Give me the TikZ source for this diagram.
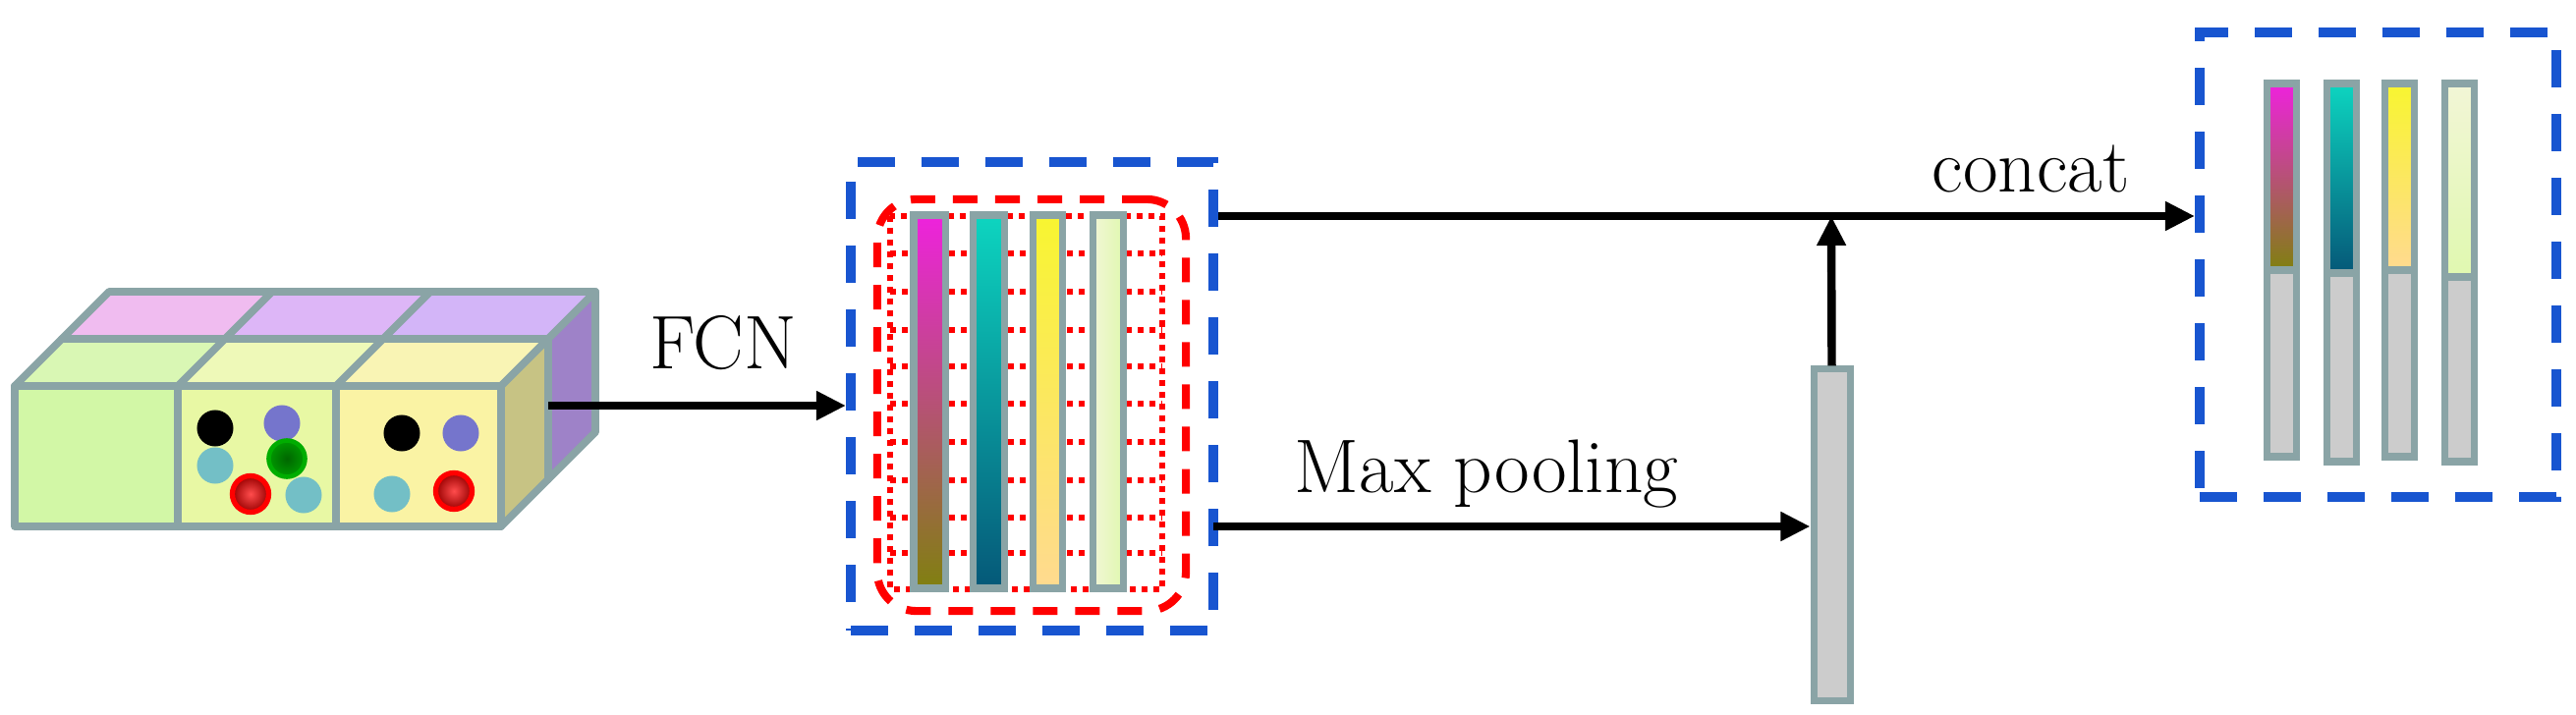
\documentclass[tikz,border=0pt]{standalone}
\usetikzlibrary{arrows.meta}
\definecolor{edge}{HTML}{8AA4A6}
\definecolor{bluedash}{HTML}{1855D0}
\definecolor{gfront1}{HTML}{D2F7A6}\definecolor{gfront2}{HTML}{E8F8A4}\definecolor{gfront3}{HTML}{FAF3A4}
\definecolor{gtop1}{HTML}{D9F7B4}\definecolor{gtop2}{HTML}{EEF9B8}\definecolor{gtop3}{HTML}{F9F4B4}
\definecolor{btop1}{HTML}{F0BCF0}\definecolor{btop2}{HTML}{DDB6F7}\definecolor{btop3}{HTML}{D3B5F8}
\definecolor{rside1}{HTML}{C7C384}\definecolor{rside2}{HTML}{9E82C8}
\definecolor{dpurple}{HTML}{7575CC}\definecolor{dcyan}{HTML}{73BFC6}
\definecolor{m1}{HTML}{EE22DD}\definecolor{m2}{HTML}{808010}
\definecolor{c1}{HTML}{0DD5C0}\definecolor{c2}{HTML}{055878}
\definecolor{y1}{HTML}{F8F530}\definecolor{y2}{HTML}{FFDA90}
\definecolor{l1}{HTML}{F2F6D6}\definecolor{l2}{HTML}{E0F8B0}
\tikzset{
  face/.style={draw=edge, line width=2.2pt, line join=round},
  conn/.style={line width=2.4pt, -{Triangle[length=0.3cm,width=0.28cm]}},
  bluebox/.style={draw=bluedash, line width=2.8pt, dash pattern=on 0.38cm off 0.27cm, inner sep=0pt},
  bar/.style={draw=edge, line width=2pt},
  dot/.style={circle, inner sep=0pt, minimum width=0.35cm, minimum height=0.37cm},
  lbl/.style={font=\fontsize{22}{24}\selectfont, inner sep=0pt, anchor=base},
}
\begin{document}
\begin{tikzpicture}[x=0.01cm,y=-0.01cm]
\useasboundingbox (0,0) rectangle (2622,728);
% ---- cube
\def\dx{48}\def\dy{48}
% back row tops
\fill[btop1] (63,345) -- (111,297) -- (277,297) -- (229,345) -- cycle;
\fill[btop2] (229,345) -- (277,297) -- (438,297) -- (390,345) -- cycle;
\fill[btop3] (390,345) -- (438,297) -- (606,297) -- (558,345) -- cycle;
\draw[face] (63,345) -- (111,297) -- (606,297) -- (558,345) -- cycle;
\draw[face] (229,345) -- (277,297) (390,345) -- (438,297);
% back right face
\draw[face, fill=rside2] (558,345) -- (606,297) -- (606,440) -- (558,488) -- cycle;
% front row tops
\fill[gtop1] (15,393) -- (63,345) -- (229,345) -- (181,393) -- cycle;
\fill[gtop2] (181,393) -- (229,345) -- (390,345) -- (342,393) -- cycle;
\fill[gtop3] (342,393) -- (390,345) -- (558,345) -- (510,393) -- cycle;
\draw[face] (15,393) -- (63,345) -- (558,345) -- (510,393) -- cycle;
\draw[face] (181,393) -- (229,345) (342,393) -- (390,345);
% front right face
\draw[face, fill=rside1] (510,393) -- (558,345) -- (558,488) -- (510,536) -- cycle;
% front faces
\draw[face, fill=gfront1] (15,393) rectangle (181,536);
\draw[face, fill=gfront2] (181,393) rectangle (342,536);
\draw[face, fill=gfront3] (342,393) rectangle (510,536);
\coordinate (cubeR) at (558,413);
% dots
\node[dot, fill=black] (d1) at (219,436) {};
\node[dot, fill=dpurple] (d2) at (287,431) {};
\node[dot, fill=dcyan] (d3) at (219,474) {};
\node[dot, draw=green!60!black!80!green, line width=1.3pt, inner color=green!40!black, outer color=green!60!black] (d4) at (292,467) {};
\node[dot, draw=red, line width=1.5pt, inner color=red!70!white, outer color=red!60!black] (d5) at (255,503) {};
\node[dot, fill=dcyan] (d6) at (309,504) {};
\node[dot, fill=black] (e1) at (409,441) {};
\node[dot, fill=dpurple] (e2) at (469,441) {};
\node[dot, fill=dcyan] (e3) at (399,503) {};
\node[dot, draw=red, line width=1.5pt, inner color=red!70!white, outer color=red!60!black] (e4) at (462,500) {};
% ---- middle block
\node[bluebox, minimum width=3.69cm, minimum height=4.77cm] (mid) at (1050.5,403.5) {};
\node[draw=red, line width=2.3pt, dash pattern=on 0.25cm off 0.18cm, rounded corners=0.4cm, minimum width=3.14cm, minimum height=4.19cm, inner sep=0pt] (redbox) at (1050,412.5) {};
\draw[red, line width=1.8pt, dash pattern=on 0.06cm off 0.06cm] (906,220) rectangle (1183,600);
\foreach \yy in {258,297,336,373,411,450,489,527,563}
  \draw[red, line width=1.8pt, dash pattern=on 0.06cm off 0.06cm] (906,\yy) -- (1183,\yy);
\draw[bar, top color=m1, bottom color=m2] (930,219) rectangle (962,599);
\draw[bar, top color=c1, bottom color=c2] (990,219) rectangle (1022,599);
\draw[bar, top color=y1, bottom color=y2] (1051,219) rectangle (1081,599);
\draw[bar, left color=l1, right color=l2] (1112,219) rectangle (1143,599);
% ---- pool bar
\node[bar, fill=black!20, minimum width=0.37cm, minimum height=3.37cm, inner sep=0pt] (pool) at (1864.5,544.5) {};
% ---- right box
\node[bluebox, minimum width=3.63cm, minimum height=4.73cm] (rbox) at (2420.5,269.5) {};
\foreach \xa/\xb/\ya/\yb/\ca/\cb in {2307/2337/275/465/m1/m2, 2368/2398/278/470/c1/c2, 2427/2457/275/465/y1/y2, 2488/2518/282/470/l1/l2}{
  \draw[bar, fill=black!20] (\xa,\ya) rectangle (\xb,\yb);
  \draw[bar, top color=\ca, bottom color=\cb] (\xa,85) rectangle (\xb,\ya);
}
% ---- connectors
\coordinate (j) at (1864,220);
\coordinate (m) at (1235,536);
\draw[conn] (cubeR) -- (mid.west |- cubeR);
\draw[conn] (mid.east |- j) -- (rbox.west |- j);
\draw[conn] (pool.north) -- (j);
\draw[conn] (m) -- (pool.west |- m);
% ---- labels
\node[lbl] (fcn) at (736,376) {FCN};
\node[lbl] (mp) at (1513,502) {Max pooling};
\node[lbl] (cc) at (2067,196) {concat};
\end{tikzpicture}
\end{document}
